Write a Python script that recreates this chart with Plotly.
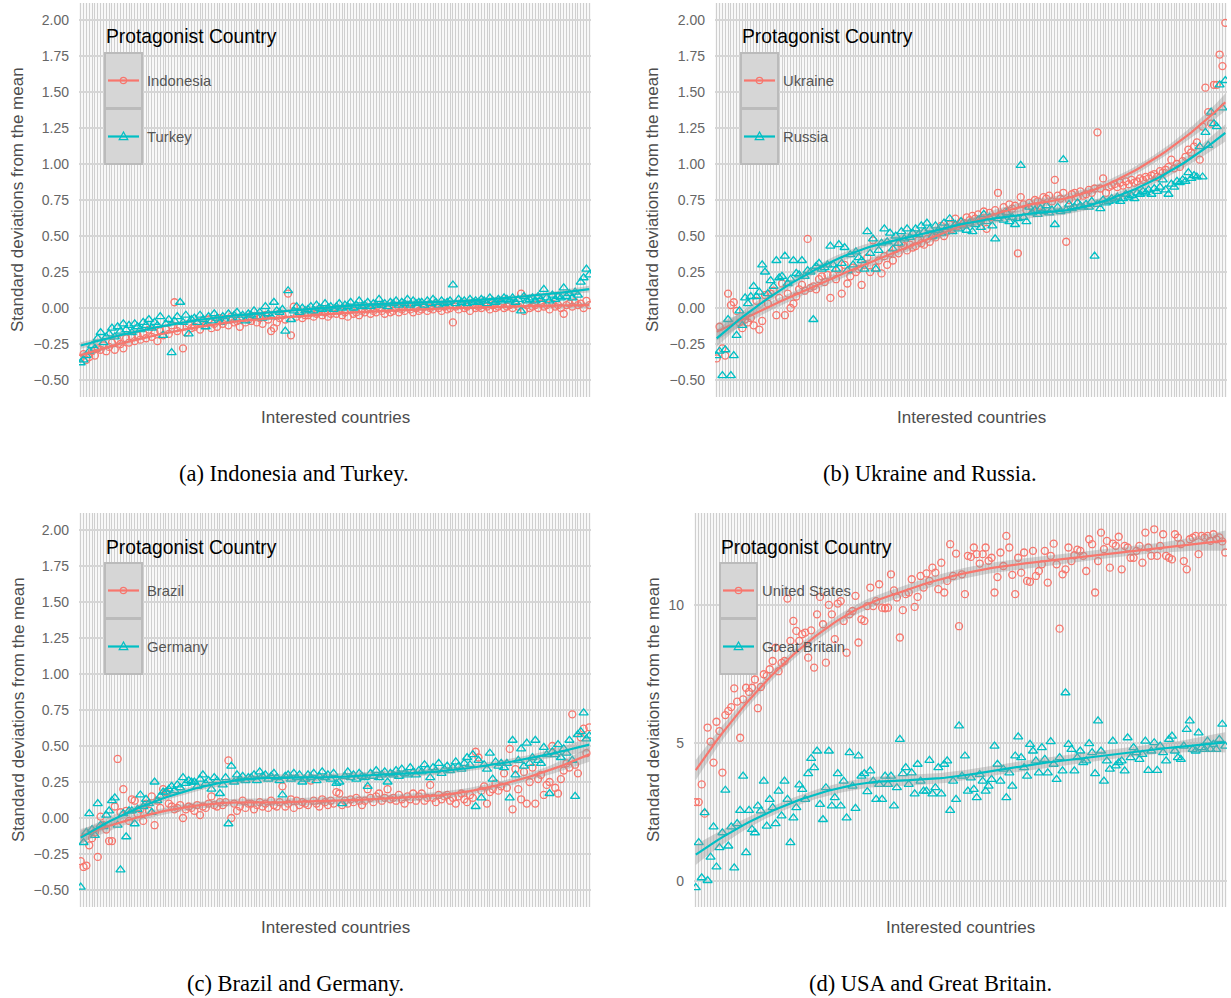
import numpy as np
import plotly.graph_objects as go

W, H = 1231, 998
RED = "#F8766D"
CYAN = "#00BFC4"

# ---------------- data (standard deviations from the mean, per interested country, ordered) ----
indonesia = [
    -0.35, -0.32, -0.36, -0.34, -0.30, -0.33, -0.28, -0.29, -0.26, -0.30,
    -0.27, -0.24, -0.29, -0.22, -0.25, -0.28, -0.21, -0.24, -0.20, -0.23,
    -0.19, -0.22, -0.18, -0.21, -0.15, -0.20, -0.17, -0.23, -0.16, -0.19,
    -0.15, -0.18, -0.12, 0.04, -0.16, -0.13, -0.28, -0.17, -0.11, -0.14,
    -0.13, -0.10, -0.15, -0.09, -0.12, -0.08, -0.14, -0.11, -0.13, -0.07,
    -0.11, -0.08, -0.12, -0.06, -0.10, -0.09, -0.13, -0.07, -0.10, -0.08,
    -0.09, -0.06, -0.10, -0.07, -0.11, -0.05, -0.08, -0.16, -0.14, -0.10,
    -0.07, -0.05, -0.08, 0.10, -0.19, 0.01, -0.06, -0.04, -0.07, -0.05,
    -0.05, -0.03, -0.06, -0.04, -0.02, -0.05, -0.03, -0.06, -0.04, -0.02,
    -0.04, -0.02, -0.05, -0.03, -0.06, -0.01, -0.04, -0.03, -0.05, -0.02,
    -0.03, -0.01, -0.04, -0.02, -0.03, 0.00, -0.02, -0.04, -0.01, -0.03,
    -0.02, 0.00, -0.03, -0.01, -0.02, 0.01, -0.01, -0.03, 0.00, -0.02,
    -0.01, 0.01, -0.02, 0.00, -0.01, 0.02, 0.00, -0.02, 0.01, -0.01,
    0.00, -0.10, 0.01, -0.01, 0.02, 0.00, 0.01, -0.02, 0.02, 0.00,
    0.01, 0.00, 0.02, 0.01, -0.01, 0.02, 0.00, 0.01, 0.03, 0.00,
    0.01, 0.02, 0.00, 0.03, 0.01, 0.10, -0.02, 0.02, 0.00, 0.01,
    0.02, 0.00, 0.03, 0.01, 0.02, -0.01, 0.03, 0.01, 0.02, 0.00,
    -0.04, 0.02, 0.03, 0.01, 0.04, 0.02, 0.03, 0.00, 0.05, 0.02,
]
turkey = [
    -0.38, -0.36, -0.33, -0.30, -0.26, -0.28, -0.21, -0.17, -0.24, -0.20,
    -0.18, -0.14, -0.20, -0.13, -0.16, -0.11, -0.15, -0.12, -0.17, -0.11,
    -0.13, -0.15, -0.10, -0.12, -0.08, -0.14, -0.10, -0.12, -0.06, -0.19,
    -0.11, -0.08, -0.31, -0.09, -0.06, 0.04, -0.10, -0.05, -0.18, -0.08,
    -0.07, -0.10, -0.05, -0.08, -0.13, -0.06, -0.09, -0.04, -0.07, -0.10,
    -0.06, -0.09, -0.04, -0.08, -0.05, -0.03, -0.07, -0.05, -0.09, -0.04,
    -0.05, -0.02, -0.06, -0.03, -0.07, 0.01, -0.04, -0.06, 0.04, -0.02,
    -0.03, -0.01, -0.16, 0.12, -0.08, -0.02, 0.01, -0.03, 0.00, -0.02,
    -0.01, 0.01, -0.02, 0.02, 0.00, -0.01, 0.03, 0.00, 0.01, -0.01,
    0.01, 0.03, 0.00, 0.02, 0.01, 0.04, 0.00, 0.02, 0.05, 0.01,
    0.02, 0.04, 0.01, 0.03, 0.02, 0.06, 0.02, 0.03, 0.01, 0.04,
    0.03, 0.05, 0.02, 0.04, 0.03, 0.06, 0.02, 0.05, 0.03, 0.04,
    0.04, 0.02, 0.05, 0.03, 0.06, 0.04, 0.02, 0.05, 0.03, 0.04,
    0.05, 0.16, 0.03, 0.06, 0.04, 0.05, 0.03, 0.06, 0.04, 0.05,
    0.04, 0.06, 0.05, 0.03, 0.07, 0.05, 0.04, 0.06, 0.05, 0.07,
    0.06, 0.05, 0.07, 0.04, 0.06, -0.02, 0.08, 0.05, 0.06, 0.07,
    0.05, 0.08, 0.06, 0.13, 0.07, 0.05, 0.09, 0.06, 0.08, 0.07,
    0.14, 0.08, 0.10, 0.07, 0.11, 0.09, 0.18, 0.21, 0.27, 0.23,
]
ukraine = [
    -0.35, -0.13, -0.28, -0.33, 0.10, 0.02, 0.04, -0.02, -0.10, -0.14,
    -0.08, -0.10, -0.07, -0.12, 0.05, -0.15, -0.09, 0.09, 0.03, 0.10,
    0.12, -0.05, 0.07, 0.17, -0.05, 0.10, 0.00, 0.03, 0.08, 0.13,
    0.16, 0.12, 0.48, 0.14, 0.15, 0.13, 0.20, 0.22, 0.18, 0.23,
    0.07, 0.23, 0.20, 0.27, 0.10, 0.30, 0.17, 0.22, 0.28, 0.25,
    0.27, 0.16, 0.30, 0.35, 0.25, 0.47, 0.28, 0.33, 0.24, 0.36,
    0.30, 0.38, 0.33, 0.41, 0.38, 0.45, 0.43, 0.40, 0.44, 0.42,
    0.43, 0.47, 0.45, 0.44, 0.48, 0.46, 0.50, 0.49, 0.52, 0.57,
    0.50, 0.53, 0.58, 0.55, 0.62, 0.57, 0.60, 0.59, 0.63, 0.61,
    0.64, 0.62, 0.65, 0.60, 0.67, 0.55, 0.66, 0.63, 0.68, 0.80,
    0.65, 0.70, 0.67, 0.72, 0.69, 0.71, 0.38, 0.77, 0.72, 0.68,
    0.73, 0.70, 0.75, 0.74, 0.71, 0.77, 0.76, 0.78, 0.74, 0.89,
    0.78, 0.76, 0.80, 0.46, 0.75, 0.79, 0.80, 0.77, 0.81, 0.78,
    0.79, 0.82, 0.80, 0.83, 1.22, 0.83, 0.90, 0.80, 0.84, 0.85,
    0.86, 0.84, 0.87, 0.85, 0.88, 0.86, 0.89, 0.87, 0.88, 0.90,
    0.89, 0.91, 0.90, 0.92, 0.93, 0.91, 0.95, 0.94, 0.96, 0.98,
    1.03, 0.97, 1.00, 0.98, 1.02, 1.05, 1.10, 1.08, 1.12, 1.15,
    1.03, 1.26, 1.53, 1.36, 1.28, 1.55, 1.55, 1.76, 1.68, 1.98,
]
russia = [
    -0.33, -0.30, -0.47, -0.29, -0.08, -0.47, -0.33, -0.19, -0.02, -0.12,
    0.07, 0.03, 0.08, 0.15, 0.08, 0.11, 0.30, 0.25, 0.10, 0.19,
    0.15, 0.33, 0.21, 0.22, 0.36, 0.17, 0.20, 0.33, 0.24, 0.23,
    0.33, 0.22, 0.26, 0.25, -0.08, 0.29, 0.31, 0.27, 0.28, 0.30,
    0.43, 0.30, 0.27, 0.44, 0.31, 0.42, 0.26, 0.37, 0.30, 0.39,
    0.35, 0.33, 0.27, 0.53, 0.38, 0.48, 0.27, 0.40, 0.45, 0.55,
    0.46, 0.52, 0.41, 0.50, 0.45, 0.53, 0.48, 0.55, 0.49, 0.52,
    0.55, 0.51, 0.57, 0.53, 0.59, 0.55, 0.50, 0.57, 0.54, 0.52,
    0.59, 0.56, 0.62, 0.53, 0.58, 0.55, 0.60, 0.57, 0.54, 0.59,
    0.53, 0.58, 0.61, 0.56, 0.65, 0.60, 0.63, 0.57, 0.48, 0.62,
    0.64, 0.61, 0.66, 0.60, 0.63, 0.58, 0.62, 0.99, 0.63, 0.60,
    0.70, 0.66, 0.68, 0.65, 0.69, 0.67, 0.71, 0.66, 0.68, 0.58,
    0.70, 0.67, 1.03, 0.68, 0.72, 0.69, 0.70, 0.73, 0.71, 0.70,
    0.72, 0.70, 0.74, 0.36, 0.72, 0.69, 0.75, 0.73, 0.74, 0.76,
    0.75, 0.77, 0.74, 0.76, 0.79, 0.77, 0.78, 0.76, 0.80, 0.79,
    0.81, 0.80, 0.82, 0.79, 0.83, 0.81, 0.84, 0.89, 0.82, 0.79,
    0.86, 0.84, 0.88, 0.87, 0.89, 0.88, 0.94, 0.90, 0.92, 0.91,
    1.12, 0.91, 1.22, 1.13, 1.36, 1.28, 1.26, 1.55, 1.39, 1.58,
]
brazil = [
    -0.30, -0.34, -0.33, -0.19, -0.14, -0.10, -0.27, 0.01, -0.05, -0.08,
    -0.16, -0.16, 0.08, 0.41, 0.04, 0.20, 0.05, -0.02, 0.13, 0.12,
    0.03, 0.06, -0.02, 0.10, 0.05, 0.15, -0.05, 0.12, 0.07, 0.20,
    0.18, 0.10, 0.08, 0.06, 0.07, 0.09, 0.00, 0.06, 0.08, 0.07,
    0.05, 0.09, 0.02, 0.08, 0.07, 0.10, 0.15, 0.09, 0.08, 0.11,
    0.09, 0.11, 0.40, 0.00, 0.10, 0.05, 0.08, 0.12, 0.07, 0.10,
    0.10, 0.06, 0.09, 0.11, 0.08, 0.10, 0.07, 0.12, 0.09, 0.08,
    0.11, 0.22, 0.08, 0.10, 0.13, 0.07, 0.12, 0.09, 0.11, 0.10,
    0.09, 0.26, 0.12, 0.10, 0.08, 0.13, 0.11, 0.09, 0.12, 0.10,
    0.18, 0.17, 0.09, 0.12, 0.10, 0.13, 0.11, 0.14, 0.12, 0.09,
    0.12, 0.20, 0.14, 0.11, 0.15, 0.17, 0.12, 0.14, 0.20, 0.13,
    0.14, 0.12, 0.16, 0.13, 0.10, 0.15, 0.13, 0.17, 0.12, 0.15,
    0.17, 0.12, 0.14, 0.23, 0.14, 0.11, 0.16, 0.13, 0.15, 0.16,
    0.12, 0.14, 0.10, 0.15, 0.17, 0.13, 0.11, 0.16, 0.14, 0.46,
    0.42, 0.19, 0.22, 0.10, 0.18, 0.20, 0.24, 0.19, 0.22, 0.31,
    0.21, 0.48, 0.06, 0.34, 0.20, 0.13, 0.32, 0.10, 0.25, 0.35,
    0.10, 0.27, 0.30, 0.16, 0.23, 0.25, 0.50, 0.21, 0.17, 0.27,
    0.33, 0.38, 0.35, 0.72, 0.37, 0.31, 0.56, 0.62, 0.45, 0.63,
]
germany = [
    -0.48, -0.17, -0.10, 0.03, -0.08, -0.12, 0.10, -0.05, -0.06, 0.02,
    0.05, 0.12, 0.14, -0.05, -0.36, 0.03, -0.13, 0.05, 0.05, -0.04,
    0.06, 0.16, 0.08, 0.13, 0.10, 0.04, 0.25, 0.12, 0.15, 0.18,
    0.18, 0.20, 0.22, 0.19, 0.23, 0.21, 0.28, 0.24, 0.26, 0.25,
    0.25, 0.22, 0.27, 0.30, 0.24, 0.26, 0.20, 0.28, 0.26, 0.17,
    0.23, 0.28, -0.04, 0.36, 0.25, 0.30, 0.27, 0.29, 0.26, 0.28,
    0.28, 0.30, 0.26, 0.32, 0.29, 0.30, 0.27, 0.29, 0.31, 0.28,
    0.26, 0.16, 0.29, 0.30, 0.27, 0.31, 0.28, 0.30, 0.25, 0.27,
    0.30, 0.28, 0.31, 0.26, 0.29, 0.32, 0.28, 0.30, 0.27, 0.31,
    0.24, 0.25, 0.10, 0.29, 0.32, 0.28, 0.30, 0.27, 0.31, 0.29,
    0.28, 0.22, 0.31, 0.29, 0.33, 0.28, 0.30, 0.32, 0.25, 0.31,
    0.30, 0.33, 0.29, 0.34, 0.31, 0.30, 0.35, 0.32, 0.30, 0.33,
    0.32, 0.37, 0.34, 0.28, 0.35, 0.33, 0.38, 0.31, 0.34, 0.36,
    0.33, 0.35, 0.39, 0.36, 0.34, 0.38, 0.42, 0.37, 0.44, 0.08,
    0.40, 0.14, 0.37, 0.34, 0.45, 0.27, 0.39, 0.36, 0.38, 0.35,
    0.38, 0.14, 0.54, 0.30, 0.40, 0.48, 0.36, 0.52, 0.38, 0.42,
    0.54, 0.40, 0.38, 0.49, 0.44, 0.17, 0.46, 0.44, 0.51, 0.42,
    0.48, 0.45, 0.54, 0.40, 0.15, 0.58, 0.60, 0.73, 0.55, 0.57,
]
united_states = [
    2.86, 2.86, 3.50, 2.44, 5.56, 5.05, 4.29, 5.77, 5.43, 3.93,
    6.01, 6.16, 6.30, 6.98, 6.50, 5.19, 6.58, 7.00, 6.85, 7.00,
    7.30, 6.26, 7.03, 7.49, 7.43, 7.67, 7.97, 8.45, 7.60, 7.90,
    7.97, 10.23, 8.70, 9.42, 9.06, 8.70, 8.94, 9.00, 8.09, 9.08,
    7.73, 9.66, 10.29, 9.30, 7.91, 10.00, 9.66, 8.76, 10.05, 10.14,
    9.42, 8.27, 9.66, 9.78, 10.33, 8.64, 9.48, 9.42, 9.96, 10.63,
    9.96, 10.14, 10.75, 9.90, 9.88, 9.90, 11.11, 10.53, 10.27, 8.82,
    9.81, 10.39, 10.45, 10.93, 9.93, 10.29, 11.05, 10.63, 11.14, 10.87,
    11.35, 11.17, 10.57, 11.53, 10.45, 10.87, 12.20, 11.05, 11.86, 9.23,
    11.11, 10.39, 11.78, 11.74, 12.08, 11.84, 11.50, 11.84, 12.08, 11.60,
    11.71, 10.45, 11.01, 11.90, 11.41, 12.50, 12.08, 11.09, 10.39, 11.71,
    11.17, 11.90, 10.87, 10.84, 11.96, 11.05, 11.23, 11.47, 11.96, 10.81,
    11.78, 12.22, 11.47, 9.14, 11.11, 11.29, 12.08, 11.59, 11.80, 12.00,
    11.96, 11.78, 11.23, 12.38, 12.20, 10.45, 11.59, 12.62, 12.02, 12.32,
    11.35, 12.22, 12.14, 12.47, 11.29, 12.14, 12.08, 11.71, 11.71, 11.96,
    12.14, 11.53, 12.62, 12.08, 11.78, 12.74, 11.78, 12.14, 12.56, 11.78,
    11.71, 11.65, 12.56, 12.44, 12.20, 11.59, 11.29, 12.38, 12.44, 12.50,
    11.84, 12.50, 12.44, 12.50, 12.32, 12.56, 12.38, 12.45, 12.30, 11.90,
]
great_britain = [
    -0.24, 1.39, 0.12, 2.48, 0.02, 0.87, 1.96, 0.51, 1.21, 1.75,
    3.29, 1.27, 1.96, 0.48, 2.08, 2.56, 3.80, 1.03, 2.56, 1.87,
    1.75, 2.72, 2.54, 3.62, 1.99, 2.96, 2.66, 2.08, 3.26, 2.36,
    3.62, 2.96, 1.39, 2.29, 2.66, 3.48, 3.32, 2.96, 3.89, 4.44,
    4.11, 4.71, 2.78, 2.23, 3.38, 4.71, 2.72, 3.02, 3.89, 2.72,
    3.62, 2.29, 4.65, 3.44, 2.63, 4.53, 3.80, 3.89, 3.24, 3.99,
    3.62, 2.96, 3.50, 2.96, 3.80, 3.50, 3.80, 2.72, 3.38, 5.13,
    3.89, 4.11, 3.50, 3.92, 3.16, 4.23, 3.62, 3.26, 3.26, 4.37,
    3.16, 3.38, 4.11, 3.16, 4.23, 4.35, 2.56, 3.62, 2.96, 5.62,
    3.80, 4.53, 3.26, 3.74, 3.32, 3.02, 3.86, 3.62, 3.26, 3.44,
    3.68, 4.89, 4.23, 3.62, 4.05, 3.02, 3.92, 3.44, 4.53, 5.22,
    4.47, 4.11, 3.80, 4.95, 4.71, 4.35, 3.92, 4.83, 4.41, 3.92,
    5.05, 4.23, 3.68, 4.47, 3.99, 6.82, 4.95, 4.77, 3.99, 4.47,
    4.71, 4.29, 4.35, 4.98, 4.65, 3.89, 5.80, 4.71, 3.62, 4.35,
    4.05, 5.07, 4.17, 4.29, 4.35, 3.99, 5.19, 4.47, 4.83, 4.65,
    4.41, 4.59, 5.07, 4.01, 4.71, 5.01, 4.01, 4.89, 4.65, 4.35,
    5.13, 5.25, 4.71, 4.47, 4.41, 4.89, 5.49, 5.80, 4.77, 4.71,
    5.37, 4.83, 4.77, 5.07, 4.77, 4.95, 4.77, 5.13, 5.68, 4.89,
]

small_ticks = [-0.5, -0.25, 0.0, 0.25, 0.5, 0.75, 1.0, 1.25, 1.5, 1.75, 2.0]
small_labels = ["\u22120.50", "\u22120.25", "0.00", "0.25", "0.50", "0.75",
                "1.00", "1.25", "1.50", "1.75", "2.00"]
usgb_ticks = [0, 5, 10]
usgb_labels = ["0", "5", "10"]

panels = [
    dict(names=("Indonesia", "Turkey"), data=(indonesia, turkey),
         xpx=(79, 591), ypx=(3, 397), yrange=(-0.618, 2.118),
         ticks=(small_ticks, small_labels), caption="(a) Indonesia and Turkey.",
         cap=(294, 473), ytitle_x=18),
    dict(names=("Ukraine", "Russia"), data=(ukraine, russia),
         xpx=(715, 1227), ypx=(3, 397), yrange=(-0.618, 2.118),
         ticks=(small_ticks, small_labels), caption="(b) Ukraine and Russia.",
         cap=(930, 473), ytitle_x=653),
    dict(names=("Brazil", "Germany"), data=(brazil, germany),
         xpx=(79, 591), ypx=(513, 907), yrange=(-0.618, 2.118),
         ticks=(small_ticks, small_labels), caption="(c) Brazil and Germany.",
         cap=(295, 983), ytitle_x=18),
    dict(names=("United States", "Great Britain"), data=(united_states, great_britain),
         xpx=(694, 1227), ypx=(513, 907), yrange=(-0.94, 13.33),
         ticks=(usgb_ticks, usgb_labels), caption="(d) USA and Great Britain.",
         cap=(930, 983), ytitle_x=653),
]


def loess(x, y, xg, span=0.75):
    n = len(x)
    q = int(np.floor(n * span))

    def row(x0):
        d = np.abs(x - x0)
        h = np.sort(d)[q - 1]
        u = np.clip(d / h, 0, 1)
        w = (1 - u ** 3) ** 3
        dx = x - x0
        X = np.vstack([np.ones(n), dx, dx ** 2]).T
        XtW = X.T * w
        return np.linalg.solve(XtW @ X, XtW)[0]

    L = np.array([row(v) for v in x])
    resid = y - L @ y
    IL = np.eye(n) - L
    d1 = np.trace(IL.T @ IL)
    sigma = np.sqrt(resid @ resid / d1)
    G = np.array([row(v) for v in xg])
    fit = G @ y
    se = sigma * np.sqrt((G ** 2).sum(axis=1))
    return fit, fit - 1.97 * se, fit + 1.97 * se


def fx(p):
    return p / W


def fy(p):
    return 1 - p / H


fig = go.Figure()
shapes = []
annotations = []
layout_axes = {}
TXT = "#4D4D4D"
SANS = "Liberation Sans, Arial, sans-serif"

for k, p in enumerate(panels):
    idx = "" if k == 0 else str(k + 1)
    xa, ya = "x" + idx, "y" + idx
    n = len(p["data"][0])
    layout_axes["xaxis" + idx] = dict(
        domain=[fx(p["xpx"][0]), fx(p["xpx"][1])], anchor=ya,
        range=[0.4, n + 0.6], tick0=1, dtick=1, showticklabels=False,
        showgrid=True, gridcolor="#CFCFCF", gridwidth=1, zeroline=False,
        showline=False, ticks="")
    layout_axes["yaxis" + idx] = dict(
        domain=[fy(p["ypx"][1]), fy(p["ypx"][0])], anchor=xa,
        range=list(p["yrange"]), tickvals=p["ticks"][0], ticktext=p["ticks"][1],
        tickfont=dict(family=SANS, size=14, color="#666666"),
        showgrid=True, gridcolor="#D6D6D6", gridwidth=1.5, zeroline=False,
        showline=False, ticks="", ticklabelstandoff=9)

    colors = (RED, CYAN)
    symbols = ("circle-open", "triangle-up-open")
    sizes = (7, 8)
    for s in range(2):
        vals = p["data"][s]
        xs = np.arange(1, len(vals) + 1)
        fig.add_trace(go.Scatter(
            x=xs, y=vals, mode="markers", xaxis=xa, yaxis=ya, showlegend=False,
            marker=dict(symbol=symbols[s], size=sizes[s], color=colors[s],
                        line=dict(width=1.3, color=colors[s]))))
    for s in range(2):
        vals = np.array(p["data"][s], dtype=float)
        xs = np.arange(1, len(vals) + 1, dtype=float)
        xg = np.linspace(1, len(vals), 120)
        fit, lo, hi = loess(xs, vals, xg)
        fig.add_trace(go.Scatter(
            x=np.concatenate([xg, xg[::-1]]), y=np.concatenate([hi, lo[::-1]]),
            mode="lines", fill="toself", fillcolor="rgba(153,153,153,0.4)",
            line=dict(width=0), xaxis=xa, yaxis=ya, showlegend=False,
            hoverinfo="skip"))
        fig.add_trace(go.Scatter(
            x=xg, y=fit, mode="lines", line=dict(color=colors[s], width=2.2),
            xaxis=xa, yaxis=ya, showlegend=False))

    # axis titles
    x0, x1 = p["xpx"]
    y0, y1 = p["ypx"]
    annotations.append(dict(text="Standard deviations from the mean", x=fx(p["ytitle_x"]),
                            y=fy((y0 + y1) / 2), xref="paper", yref="paper",
                            textangle=-90, showarrow=False, xanchor="center", yanchor="middle",
                            font=dict(family=SANS, size=17, color=TXT)))
    annotations.append(dict(text="Interested countries", x=fx((x0 + x1) / 2), y=fy(y1 + 20),
                            xref="paper", yref="paper", showarrow=False,
                            xanchor="center", yanchor="middle",
                            font=dict(family=SANS, size=17, color=TXT)))
    annotations.append(dict(text=p["caption"], x=fx(p["cap"][0]), y=fy(p["cap"][1]),
                            xref="paper", yref="paper", showarrow=False,
                            xanchor="center", yanchor="middle",
                            font=dict(family="Liberation Serif, Times New Roman, serif",
                                      size=22.5, color="black")))

    # legend (drawn manually, ggplot style)
    lx = x0 + 26
    annotations.append(dict(text="Protagonist Country", x=fx(lx - 1), y=fy(y0 + 34),
                            xref="paper", yref="paper", showarrow=False,
                            xanchor="left", yanchor="middle",
                            font=dict(family=SANS, size=19.3, color="black")))
    for s in range(2):
        top = y0 + 50 + 56 * s
        cy = top + 27.5
        shapes.append(dict(type="rect", xref="paper", yref="paper", layer="above",
                           x0=fx(lx), x1=fx(lx + 37), y0=fy(top + 55), y1=fy(top),
                           fillcolor="#D6D6D6", line=dict(color="#BBBBBB", width=2)))
        shapes.append(dict(type="line", xref="paper", yref="paper", layer="above",
                           x0=fx(lx + 3), x1=fx(lx + 34), y0=fy(cy), y1=fy(cy),
                           line=dict(color=colors[s], width=2.2)))
        cx = lx + 18.5
        if s == 0:
            shapes.append(dict(type="circle", xref="paper", yref="paper", layer="above",
                               x0=fx(cx - 3.2), x1=fx(cx + 3.2), y0=fy(cy + 3.2), y1=fy(cy - 3.2),
                               line=dict(color=colors[s], width=1.2)))
        else:
            path = "M {} {} L {} {} L {} {} Z".format(
                fx(cx), fy(cy - 4.5), fx(cx - 4.3), fy(cy + 3.2), fx(cx + 4.3), fy(cy + 3.2))
            shapes.append(dict(type="path", path=path, xref="paper", yref="paper",
                               layer="above", line=dict(color=colors[s], width=1.2)))
        annotations.append(dict(text=p["names"][s], x=fx(lx + 40), y=fy(cy),
                                xref="paper", yref="paper", showarrow=False,
                                xanchor="left", yanchor="middle",
                                font=dict(family=SANS, size=14.8, color="#555555")))

fig.update_layout(
    width=W, height=H, margin=dict(l=0, r=0, t=0, b=0),
    paper_bgcolor="white", plot_bgcolor="#F8F8F8",
    showlegend=False, shapes=shapes, annotations=annotations,
    **layout_axes)

fig.write_html("out.html", config={"displayModeBar": False},
               post_script="document.body.style.margin='0';document.body.style.overflow='hidden';")
